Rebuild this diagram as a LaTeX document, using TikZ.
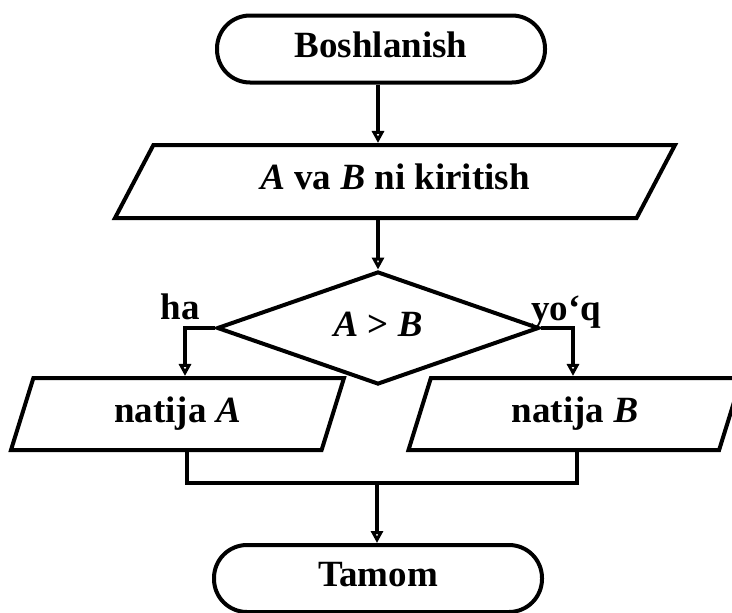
\documentclass[tikz,border=0pt]{standalone}
\usepackage{fontspec}
\setmainfont{Liberation Serif}
\usetikzlibrary{shapes.geometric, arrows.meta}
\begin{document}
\begin{tikzpicture}[x=1pt,y=-1pt,
  shp/.style={draw, line width=4pt, font=\fontsize{37}{41}\selectfont\bfseries,
    text height=20pt, text depth=4pt, inner sep=0pt},
  term/.style={shp, rectangle, rounded corners=33pt, minimum width=328pt, minimum height=67pt},
  iobig/.style={shp, trapezium, trapezium stretches body, trapezium left angle=32,
    trapezium right angle=148, minimum width=560pt, minimum height=73pt},
  iosmall/.style={shp, trapezium, trapezium stretches body, trapezium left angle=47,
    trapezium right angle=133, minimum width=333pt, minimum height=72pt},
  decision/.style={shp, diamond, minimum width=322pt, minimum height=100pt},
  lbl/.style={font=\fontsize{37}{41}\selectfont\bfseries, inner sep=0pt},
  con/.style={line width=3.4pt, -{Triangle[open, length=12pt, width=12pt]}},
  plain/.style={line width=3.4pt}
]
\clip (0,0) rectangle (732,613);
\fill[white] (0,0) rectangle (732,613);

\node[term] (t1) at (381,49) {Boshlanish};
\node[iobig] (p1) at (395,181.5) {\textit{A} va \textit{B} ni kiritish};
\node[decision] (d) at (378,328) {\textit{A} > \textit{B}};
\node[iosmall] (lp) at (177.5,414) {natija \textit{A}};
\node[iosmall] (rp) at (575,414) {natija \textit{B}};
\node[term] (t2) at (378,578.5) {Tamom};

\node[lbl, anchor=base] (ha) at (180.5,319) {ha};
\node[lbl, anchor=base] (yq) at (566,320) {yo‘q};

\coordinate (hl) at (185,328);
\coordinate (hr) at (573,328);
\coordinate (jl) at (187,483);
\coordinate (jr) at (577,483);
\coordinate (jm) at (377,483);

\draw[con] (t1.south -| d.north) -- (p1.north -| d.north);
\draw[con] (p1.south -| d.north) -- (d.north);
\draw[con] (d.west) -- (hl) -- (hl |- lp.north);
\draw[con] (d.east) -- (hr) -- (hr |- rp.north);
\draw[plain] (jl |- lp.south) -- (jl) -- (jr) -- (jr |- rp.south);
\draw[con] (jm) -- (t2.north -| jm);
\end{tikzpicture}
\end{document}
